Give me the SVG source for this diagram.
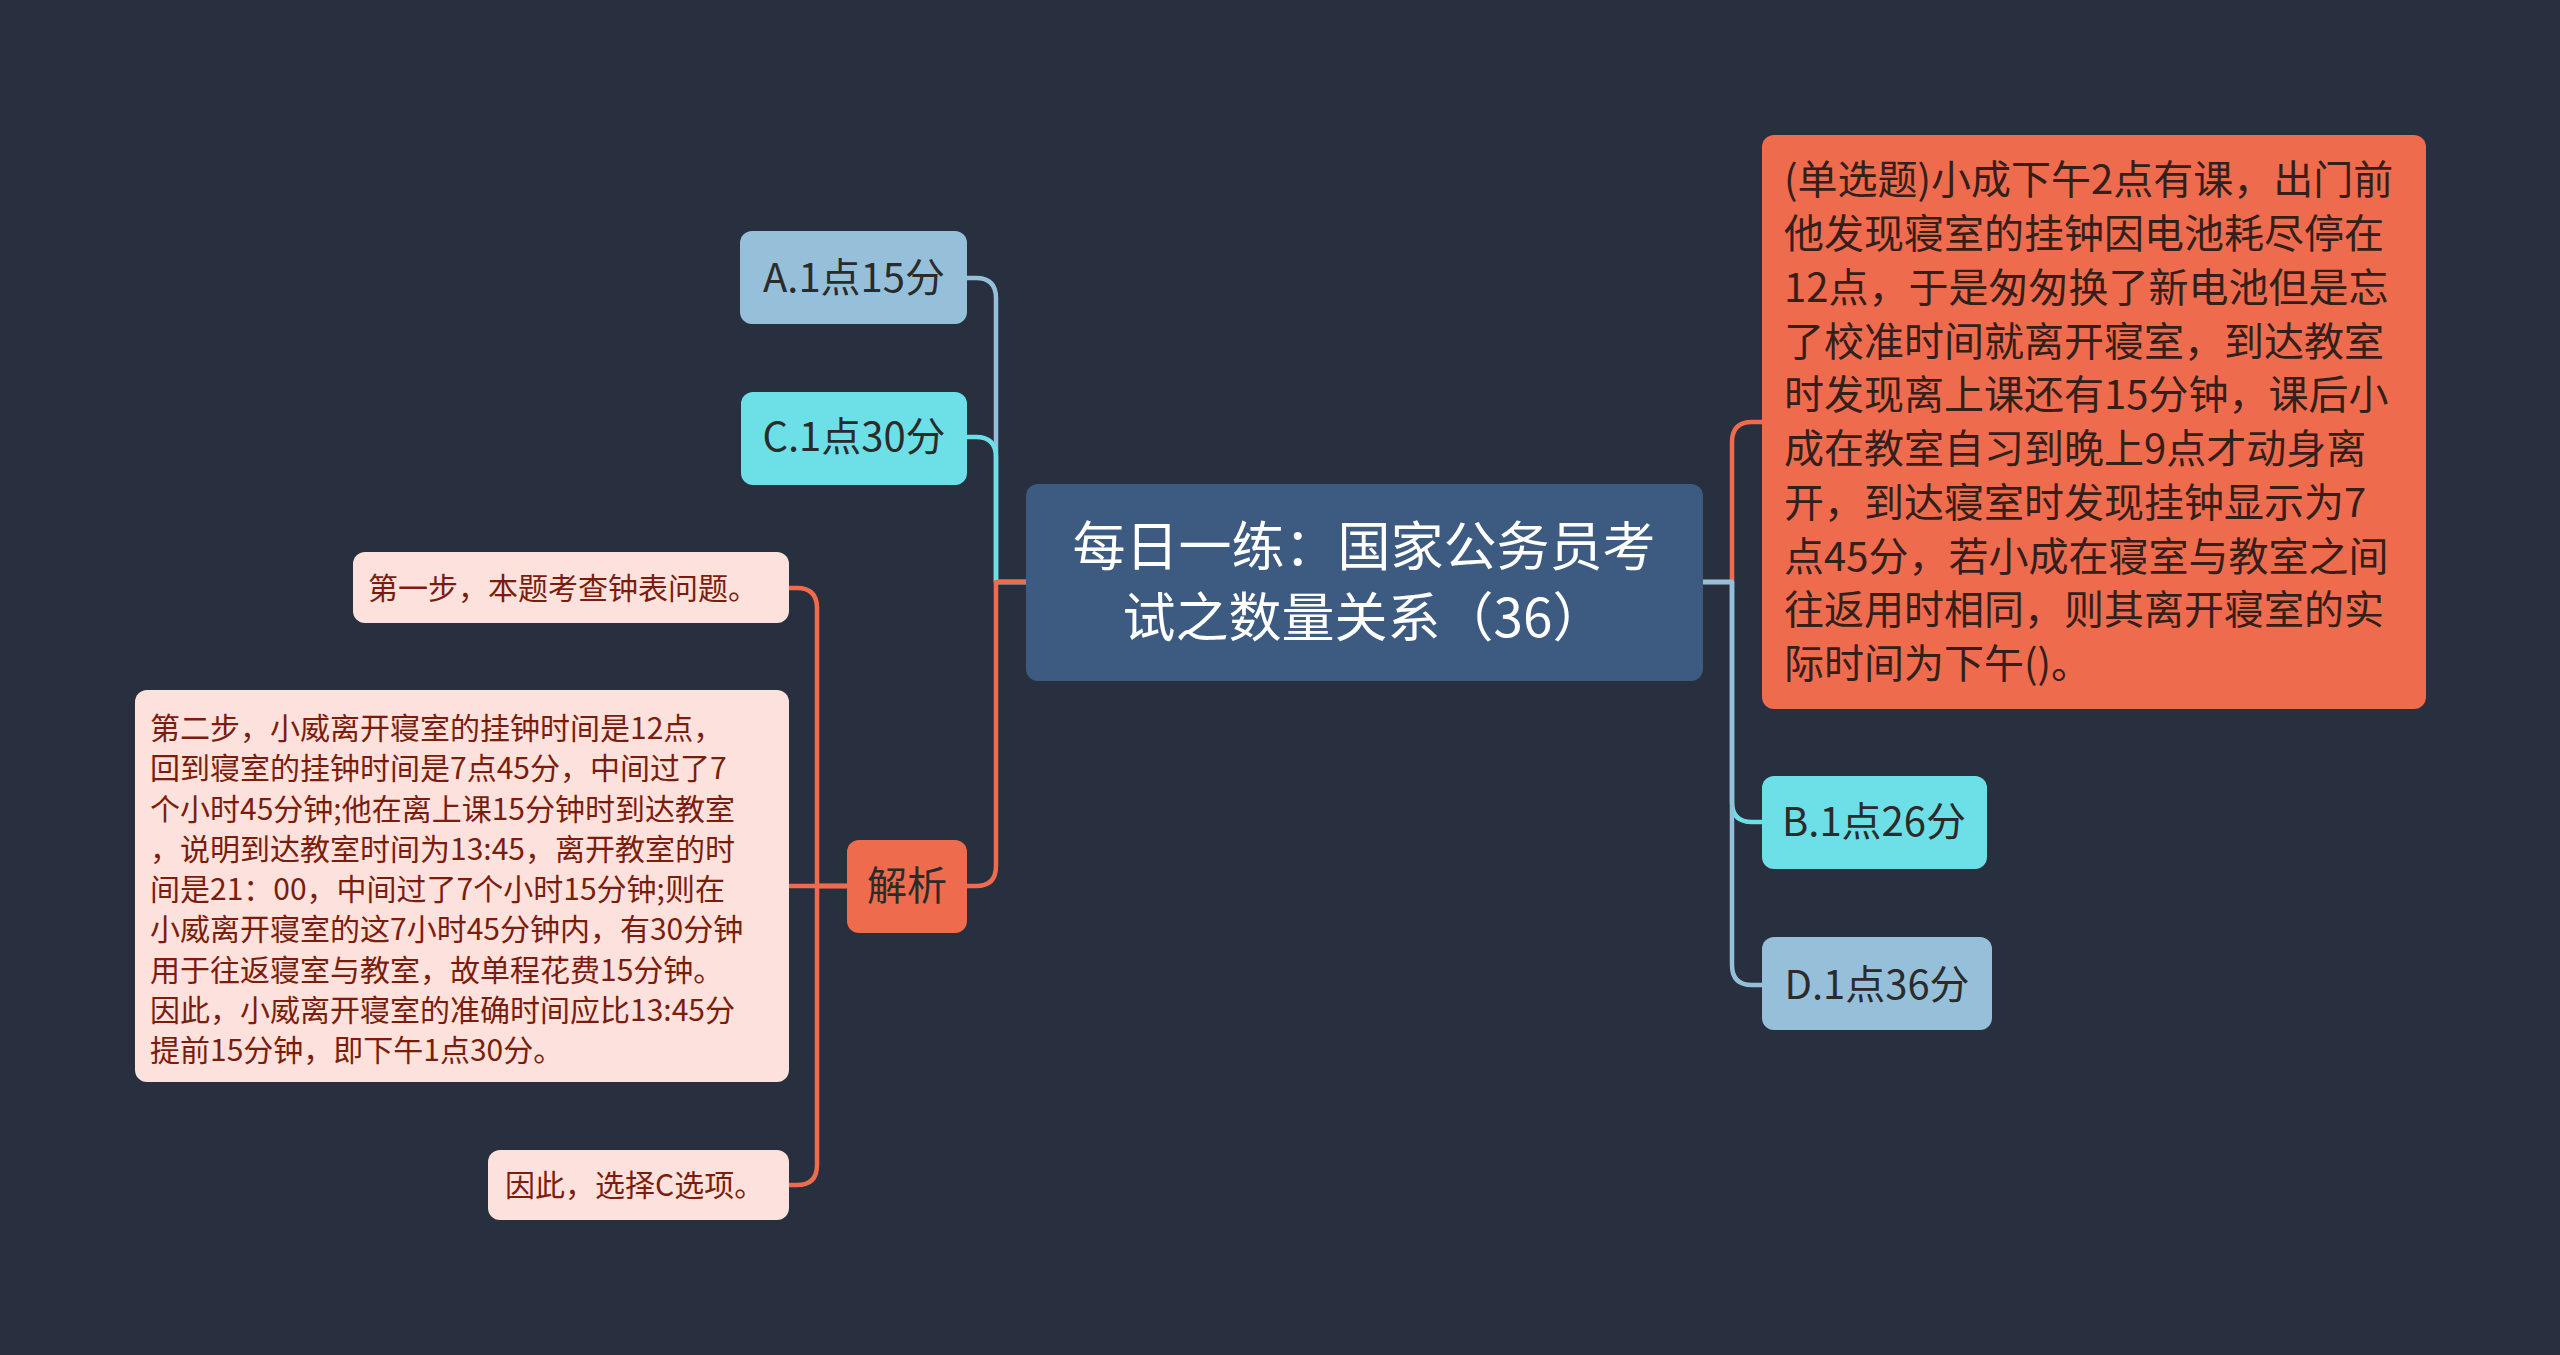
<svg xmlns="http://www.w3.org/2000/svg" width="2560" height="1355" viewBox="0 0 2560 1355">
<style>
text{font-family:"Noto Sans CJK SC","Noto Sans",sans-serif;}
.con{fill:none;stroke-width:4.5;stroke-linecap:round;stroke-linejoin:round;}
.o{stroke:#EE6B4D;}
.lb{stroke:#96C0DA;}
.cy{stroke:#6CE0E6;}
.root{fill:#3D5A80;}
.orange{fill:#EE6B4D;}
.blue{fill:#96C0DA;}
.cyan{fill:#6CE0E6;}
.pink{fill:#FCE1DC;}
.t-root{fill:#FFFFFF;font-size:53px;text-anchor:middle;}
.t-opt{fill:#2B2B2B;font-size:40px;text-anchor:middle;}
.t-q{fill:#33201B;font-size:40px;}
.t-p{fill:#7B1D0D;font-size:30px;}
</style>
<rect width="2560" height="1355" fill="#282F3E"/>
<g id="connectors">
<path class="con lb" d="M1026 582 H996 V298 Q996 278 976 278 H967"/>
<path class="con cy" d="M1026 582 H996 V457 Q996 437 976 437 H967"/>
<path class="con o" d="M1026 582 H996 V866 Q996 886 976 886 H967"/>
<path class="con o" d="M1703 582 H1732 V442 Q1732 422 1752 422 H1762"/>
<path class="con cy" d="M1703 582 H1732 V802 Q1732 822 1752 822 H1762"/>
<path class="con lb" d="M1703 582 H1732 V965 Q1732 985 1752 985 H1762"/>
<path class="con o" d="M847 886 H817 V608 Q817 588 797 588 H789"/>
<path class="con o" d="M847 886 H789"/>
<path class="con o" d="M847 886 H817 V1165 Q817 1185 797 1185 H789"/>
</g>
<g id="root">
<rect class="root" x="1026" y="484" width="677" height="197" rx="12"/>
<text class="t-root" x="1364" y="566">每日一练：国家公务员考</text>
<text class="t-root" x="1364" y="637">试之数量关系（36）</text>
</g>
<g id="question">
<rect class="orange" x="1762" y="135" width="664" height="574" rx="12"/>
<text class="t-q" x="1784" y="194">(单选题)小成下午2点有课，出门前</text>
<text class="t-q" x="1784" y="248">他发现寝室的挂钟因电池耗尽停在</text>
<text class="t-q" x="1784" y="302">12点，于是匆匆换了新电池但是忘</text>
<text class="t-q" x="1784" y="356">了校准时间就离开寝室，到达教室</text>
<text class="t-q" x="1784" y="409">时发现离上课还有15分钟，课后小</text>
<text class="t-q" x="1784" y="463">成在教室自习到晚上9点才动身离</text>
<text class="t-q" x="1784" y="517">开，到达寝室时发现挂钟显示为7</text>
<text class="t-q" x="1784" y="571">点45分，若小成在寝室与教室之间</text>
<text class="t-q" x="1784" y="624">往返用时相同，则其离开寝室的实</text>
<text class="t-q" x="1784" y="678">际时间为下午()。</text>
</g>
<g id="optB">
<rect class="cyan" x="1762" y="776" width="225" height="93" rx="12"/>
<text class="t-opt" x="1874" y="836">B.1点26分</text>
</g>
<g id="optD">
<rect class="blue" x="1762" y="937" width="230" height="93" rx="12"/>
<text class="t-opt" x="1877" y="999">D.1点36分</text>
</g>
<g id="optA">
<rect class="blue" x="740" y="231" width="227" height="93" rx="12"/>
<text class="t-opt" x="854" y="292">A.1点15分</text>
</g>
<g id="optC">
<rect class="cyan" x="741" y="392" width="226" height="93" rx="12"/>
<text class="t-opt" x="854" y="451">C.1点30分</text>
</g>
<g id="analysis">
<rect class="orange" x="847" y="840" width="120" height="93" rx="12"/>
<text class="t-opt" x="907" y="900">解析</text>
</g>
<g id="step1">
<rect class="pink" x="353" y="552" width="436" height="71" rx="12"/>
<text class="t-p" x="368" y="599">第一步，本题考查钟表问题。</text>
</g>
<g id="step2">
<rect class="pink" x="135" y="690" width="654" height="392" rx="12"/>
<text class="t-p" x="150" y="739">第二步，小威离开寝室的挂钟时间是12点，</text>
<text class="t-p" x="150" y="779">回到寝室的挂钟时间是7点45分，中间过了7</text>
<text class="t-p" x="150" y="820">个小时45分钟;他在离上课15分钟时到达教室</text>
<text class="t-p" x="150" y="860">，说明到达教室时间为13:45，离开教室的时</text>
<text class="t-p" x="150" y="900">间是21：00，中间过了7个小时15分钟;则在</text>
<text class="t-p" x="150" y="940">小威离开寝室的这7小时45分钟内，有30分钟</text>
<text class="t-p" x="150" y="981">用于往返寝室与教室，故单程花费15分钟。</text>
<text class="t-p" x="150" y="1021">因此，小威离开寝室的准确时间应比13:45分</text>
<text class="t-p" x="150" y="1061">提前15分钟，即下午1点30分。</text>
</g>
<g id="step3">
<rect class="pink" x="488" y="1150" width="301" height="70" rx="12"/>
<text class="t-p" x="505" y="1196">因此，选择C选项。</text>
</g>
</svg>
